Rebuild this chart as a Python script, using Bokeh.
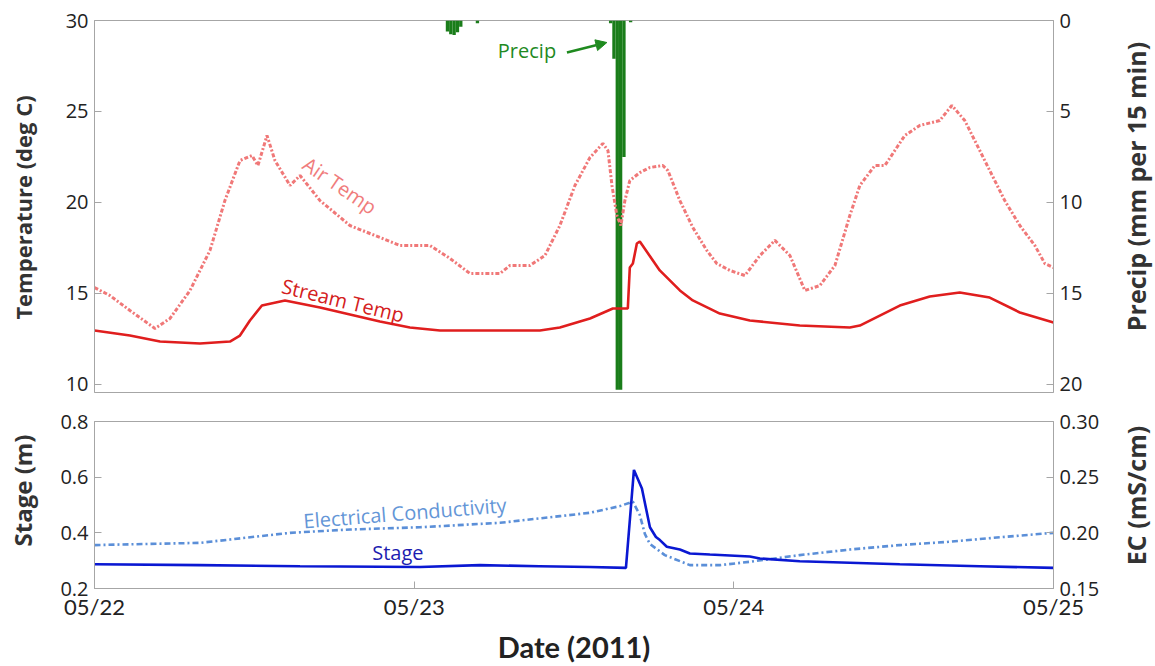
import math
from bokeh.plotting import figure
from bokeh.layouts import column, row
from bokeh.models import (Range1d, LinearAxis, FixedTicker, Label, Arrow,
                          NormalHead, NumeralTickFormatter)
from bokeh.embed import file_html
from bokeh.resources import INLINE

# ---------------- data ----------------
day_ticks = [0, 24, 48, 72]
day_labels = ["05/22", "05/23", "05/24", "05/25"]

temp_ticks = [10, 15, 20, 25, 30]
precip_ticks = [0, 5, 10, 15, 20]
stage_ticks = [0.2, 0.4, 0.6, 0.8]
ec_ticks = [0.15, 0.20, 0.25, 0.30]

stream_hours = [0, 2.66, 4.92, 7.92, 10.17, 10.92, 11.67, 12.57, 14.3, 16.93, 19.18,
                21.43, 23.68, 25.94, 33.44, 34.94, 37.2, 38.92, 40.04, 40.19, 40.42,
                40.72, 40.94, 42.44, 43.95, 44.92, 46.95, 49.2, 52.95, 56.71, 57.46,
                58.96, 60.46, 62.71, 64.96, 67.21, 69.47, 72.0]
stream_temp = [12.96, 12.68, 12.35, 12.24, 12.35, 12.68, 13.51, 14.33, 14.61, 14.22, 13.84,
               13.45, 13.12, 12.96, 12.96, 13.12, 13.62, 14.17, 14.17, 16.42, 16.64,
               17.74, 17.85, 16.26, 15.16, 14.61, 13.89, 13.51, 13.23, 13.12, 13.23,
               13.78, 14.33, 14.83, 15.05, 14.77, 13.95, 13.40]

air_hours = [0, 1.16, 2.66, 4.54, 5.67, 7.17, 8.67, 9.79, 10.92, 11.82, 12.27, 12.95,
             13.55, 14.68, 15.43, 16.93, 19.18, 21.43, 22.93, 25.19, 26.69, 28.19,
             30.44, 31.19, 32.69, 33.82, 34.94, 36.07, 37.2, 38.17, 38.55, 38.85,
             39.22, 39.52, 39.82, 40.19, 40.94, 41.7, 42.67, 43.05, 43.95, 44.92,
             45.97, 46.72, 47.7, 48.83, 49.96, 51.08, 52.21, 53.33, 54.46, 55.59,
             56.71, 57.46, 58.59, 59.34, 60.84, 61.96, 63.46, 64.37, 65.34, 66.84,
             68.34, 69.47, 70.6, 71.35, 72.0]
air_temp = [15.32, 14.88, 14.06, 13.07, 13.62, 15.16, 17.36, 20.10, 22.30, 22.58, 22.03, 23.68,
            22.30, 20.93, 21.48, 20.10, 18.73, 18.07, 17.63, 17.63, 16.92, 16.09,
            16.09, 16.53, 16.53, 17.08, 18.73, 20.93, 22.47, 23.24, 22.85, 20.93,
            19.28, 18.73, 20.10, 21.20, 21.64, 21.92, 22.03, 21.75, 20.10, 18.62,
            17.36, 16.64, 16.26, 15.98, 17.08, 17.91, 17.08, 15.16, 15.43, 16.53,
            19.28, 20.93, 22.03, 22.03, 23.68, 24.23, 24.50, 25.33, 24.50, 22.30,
            20.10, 18.73, 17.63, 16.64, 16.42]

precip_hours = [26.5, 26.75, 27.0, 27.25, 27.5, 28.75, 38.75, 39.0, 39.25, 39.5, 39.75, 40.25]
precip_mm = [0.6, 0.75, 0.8, 0.65, 0.35, 0.15, 0.15, 2.1, 20.3, 20.3, 7.5, 0.1]

stage_hours = [0, 7.9, 15.43, 24.44, 28.94, 33.4, 37.2, 39.9, 40.5, 41.1, 41.7, 42.15, 42.45,
               42.97, 43.95, 44.7, 45.45, 46.2, 49.2, 49.96, 52.95, 60.46, 66.46, 72.0]
stage_m = [0.287, 0.284, 0.280, 0.277, 0.284, 0.280, 0.277, 0.274, 0.626, 0.559, 0.42, 0.385,
           0.374, 0.35, 0.34, 0.326, 0.324, 0.322, 0.315, 0.308, 0.298, 0.287, 0.280, 0.274]

ec_hours = [0, 7.92, 10.17, 14.68, 19.18, 24.44, 30.44, 34.94, 37.2, 39.44, 40.42, 40.94,
            41.32, 41.7, 42.82, 44.7, 46.95, 49.2, 52.95, 56.71, 60.46, 64.21, 67.97, 72.0]
ec_mscm = [0.189, 0.191, 0.194, 0.200, 0.203, 0.205, 0.209, 0.215, 0.218, 0.224, 0.228, 0.216,
           0.199, 0.190, 0.180, 0.171, 0.171, 0.174, 0.180, 0.185, 0.189, 0.192, 0.196, 0.200]

# ---------------- styling helpers ----------------
FRAME = "#a6a6a6"
TICKFONT = "Open Sans"
LABELFONT = "Open Sans"
XFONT = "Lato"

LEFT_W, RIGHT_W, MAIN_W = 40, 42, 1073
TOP_H, BOT_H = 400, 266


def style_axis(ax, ticks, size="20px", font=TICKFONT):
    ax.ticker = FixedTicker(ticks=ticks)
    ax.axis_line_color = FRAME
    ax.major_tick_line_color = FRAME
    ax.major_tick_in = 7
    ax.major_tick_out = 0
    ax.minor_tick_line_color = None
    ax.major_label_text_color = "#222222"
    ax.major_label_text_font = font
    ax.major_label_text_font_size = size
    ax.major_label_standoff = 6


def title_fig(w, h, text, cx, cy, size):
    f = figure(width=w, height=h, output_backend="svg", toolbar_location=None,
               x_range=Range1d(0, w), y_range=Range1d(0, h),
               x_axis_location=None, y_axis_location=None, min_border=0)
    f.grid.visible = False
    f.outline_line_color = None
    f.add_layout(Label(x=cx, y=cy, text=text, angle=math.pi / 2,
                       text_align="center", text_baseline="middle",
                       text_font=LABELFONT, text_font_style="bold",
                       text_font_size=size, text_color="#333333"))
    return f


label_over = {t: l for t, l in zip(day_ticks, day_labels)}

# ---------------- top panel ----------------
p1 = figure(width=MAIN_W, height=TOP_H, output_backend="svg", toolbar_location=None,
            x_range=Range1d(0, 72), y_range=Range1d(9.55, 30),
            x_axis_location=None, y_axis_location=None,
            min_border_left=54, min_border_right=60, min_border_top=20, min_border_bottom=8)
p1.extra_y_ranges = {"precip": Range1d(20.45, 0)}
p1.grid.visible = False
p1.outline_line_color = FRAME

ax_l = LinearAxis()
style_axis(ax_l, temp_ticks)
p1.add_layout(ax_l, "left")

ax_r = LinearAxis(y_range_name="precip")
style_axis(ax_r, precip_ticks)
p1.add_layout(ax_r, "right")

p1.vbar(x=precip_hours, top=precip_mm, bottom=0, width=0.25, y_range_name="precip",
        fill_color="#1a7d1a", line_color=None)
p1.line(air_hours, air_temp, line_color="#f07878", line_width=3, line_dash="4 2 2 2")
p1.line(stream_hours, stream_temp, line_color="#e01e1e", line_width=2.6)

p1.add_layout(Label(x=32.47, y=28.35, text="Precip", text_color="#1f8a1f",
                    text_font=LABELFONT, text_font_size="20px",
                    text_align="center", text_baseline="middle"))
p1.add_layout(Arrow(end=NormalHead(size=11, fill_color="#1f8a1f", line_color="#1f8a1f"),
                    x_start=35.47, y_start=28.24, x_end=38.47, y_end=28.79,
                    line_color="#1f8a1f", line_width=2.5))
p1.add_layout(Label(x=18.43, y=20.93, text="Air Temp", text_color="#f07c7c",
                    text_font=LABELFONT, text_font_size="20px", angle=-0.6,
                    text_align="center", text_baseline="middle"))
p1.add_layout(Label(x=18.66, y=14.61, text="Stream Temp", text_color="#d42020",
                    text_font=LABELFONT, text_font_size="20px", angle=-0.24,
                    text_align="center", text_baseline="middle"))

# ---------------- bottom panel ----------------
p2 = figure(width=MAIN_W, height=BOT_H, output_backend="svg", toolbar_location=None,
            x_range=p1.x_range, y_range=Range1d(0.2, 0.8),
            x_axis_location=None, y_axis_location=None,
            min_border_left=54, min_border_right=60, min_border_top=21, min_border_bottom=73)
p2.extra_y_ranges = {"ec": Range1d(0.15, 0.30)}
p2.grid.visible = False
p2.outline_line_color = FRAME

bx_l = LinearAxis()
style_axis(bx_l, stage_ticks)
bx_l.formatter = NumeralTickFormatter(format="0.0")
p2.add_layout(bx_l, "left")

bx_r = LinearAxis(y_range_name="ec")
style_axis(bx_r, ec_ticks)
bx_r.formatter = NumeralTickFormatter(format="0.00")
p2.add_layout(bx_r, "right")

bx_b = LinearAxis(axis_label="Date (2011)")
style_axis(bx_b, day_ticks, size="22px", font=XFONT)
bx_b.major_label_overrides = label_over
bx_b.major_label_standoff = 4
bx_b.axis_label_text_font = XFONT
bx_b.axis_label_text_font_style = "bold"
bx_b.axis_label_text_font_size = "29px"
bx_b.axis_label_text_color = "#222222"
bx_b.axis_label_standoff = 6
p2.add_layout(bx_b, "below")

p2.line(ec_hours, ec_mscm, y_range_name="ec", line_color="#5b8fd8", line_width=2.6,
        line_dash="6 3 2 3")
p2.line(stage_hours, stage_m, line_color="#0a18d2", line_width=2.6)

p2.add_layout(Label(x=23.31, y=0.472, text="Electrical Conductivity", text_color="#6496d7",
                    text_font=LABELFONT, text_font_size="20px", angle=0.08,
                    text_align="center", text_baseline="middle"))
p2.add_layout(Label(x=22.78, y=0.329, text="Stage", text_color="#1c1cb0",
                    text_font=LABELFONT, text_font_size="20px",
                    text_align="center", text_baseline="middle"))

# ---------------- side titles ----------------
l1 = title_fig(LEFT_W, TOP_H, "Temperature (deg C)", 22, 193, "22px")
l2 = title_fig(LEFT_W, BOT_H, "Stage (m)", 22, 176, "24px")
r1 = title_fig(RIGHT_W, TOP_H, "Precip (mm per 15 min)", 22, 214, "25px")
r2 = title_fig(RIGHT_W, BOT_H, "EC (mS/cm)", 22, 171, "25px")

layout = row(column(l1, l2, spacing=0), column(p1, p2, spacing=0),
             column(r1, r2, spacing=0), spacing=0)
open("out.html", "w").write(file_html(layout, INLINE))
